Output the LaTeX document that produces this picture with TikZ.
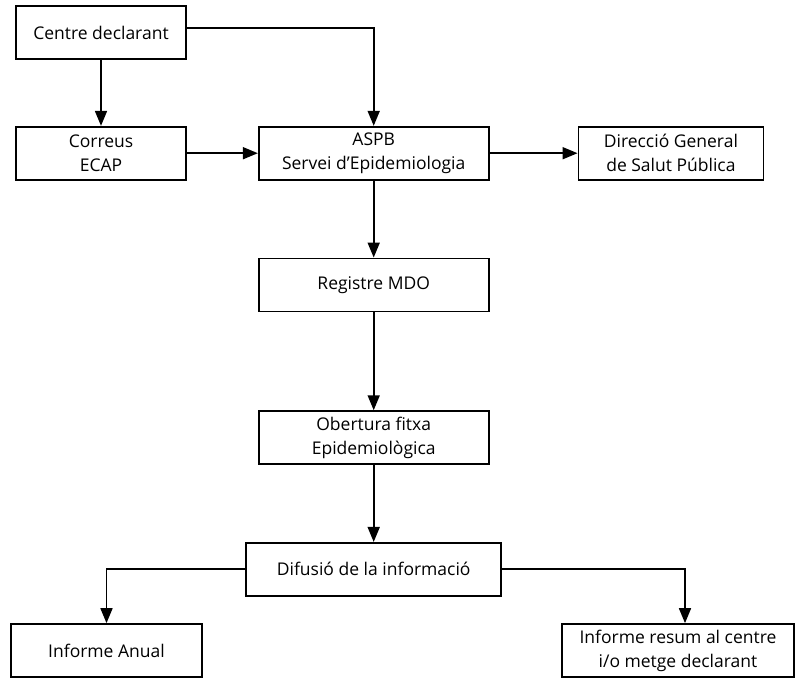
\documentclass[tikz,border=0pt]{standalone}
\usepackage{fontspec}
\setmainfont{Open Sans}
\usetikzlibrary{arrows.meta,positioning}

\begin{document}
\begin{tikzpicture}[
  x=1pt,y=1pt,
  box/.style={draw,line width=1.7pt,minimum height=53pt,align=center,
              inner sep=2pt,font=\fontsize{17.5}{24}\selectfont},
  link/.style={line width=1.7pt},
  >={Triangle[length=15pt,width=12pt]}]
\useasboundingbox (0,0) rectangle (795,-678);
\node[box,minimum width=170pt] (centre) at (101,-32.5) {Centre declarant};
\node[box,minimum width=170pt,below=66pt of centre] (correus) {Correus\\ECAP};
\node[box,minimum width=230pt,right=71pt of correus] (aspb) {ASPB\\Servei d’Epidemiologia};
\node[box,minimum width=185pt,right=88pt of aspb] (dgsp) {Direcció General\\de Salut Pública};
\node[box,minimum width=230pt,below=77pt of aspb] (registre) {Registre MDO};
\node[box,minimum width=230pt,below=98pt of registre] (obertura) {Obertura fitxa\\Epidemiològica};
\node[box,minimum width=255pt,below=77pt of obertura] (difusio) {Difusió de la informació};
\node[box,minimum width=191pt] (anual) at (106.5,-650.5) {Informe Anual};
\node[box,minimum width=232pt] (resum) at (678,-650.5) {Informe resum al centre\\i/o metge declarant};
\draw[link,->] (centre) -- (correus);
\draw[link,->] ([yshift=4.5pt]centre.east) -| (aspb);
\draw[link,->] (correus) -- (aspb);
\draw[link,->] (aspb) -- (dgsp);
\draw[link,->] (aspb) -- (registre);
\draw[link,->] (registre) -- (obertura);
\draw[link,->] (obertura) -- (difusio);
\draw[link,->] (difusio.west) -| (anual);
\draw[link,->] (difusio.east) -| ([xshift=7pt]resum.north);
\end{tikzpicture}
\end{document}
